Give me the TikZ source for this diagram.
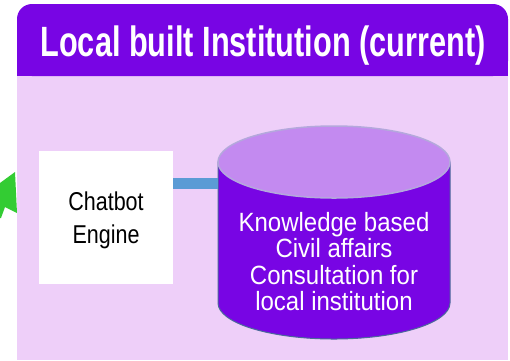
\documentclass[tikz,border=0pt]{standalone}
\usepackage{fontspec}
\setmainfont{Liberation Sans}
\definecolor{hdr}{HTML}{7805E4}
\definecolor{bodybg}{HTML}{EECFF9}
\definecolor{cyltop}{HTML}{C38AF0}
\definecolor{cyltopline}{HTML}{B4A8DC}
\definecolor{cylline}{HTML}{4A6A9A}
\definecolor{linkblue}{HTML}{5B9BD5}
\definecolor{arrowgreen}{HTML}{33CC33}
\tikzset{
  boxtext/.style={font=\fontsize{21.5}{27.5}\selectfont, align=center, text=black},
  cyltext/.style={font=\fontsize{24}{22}\selectfont, align=center, text=white},
  link/.style={draw=linkblue, line width=11pt}
}
\begin{document}
\begin{tikzpicture}[x=1pt,y=-1pt]
\useasboundingbox (0,0) rectangle (510,360);
% green arrow fragment
\fill[arrowgreen] (0,183) -- (15,172) -- (17,213) -- (5,207) -- (1,218) -- (0,218) -- cycle;
% panel body
\fill[bodybg] (17,60) rectangle (508,360);
% header
\fill[hdr, rounded corners=15pt] (17,76) -- (17,4) -- (508,4) -- (508,76) -- cycle;
\fill[hdr] (17,60) rectangle (508,76);
\node[text=white, inner sep=0pt] (title) at (263,46) {\scalebox{1}[1.38]{\fontsize{30.7}{31}\selectfont\bfseries Local built Institution (current)}};
% chatbot box
\node[fill=white, minimum width=134pt, minimum height=133pt, inner sep=0pt] (chat) at (106,217.5) {};
\node[boxtext, inner sep=0pt] (chatlabel) at (106,220) {\scalebox{1}[1.2]{\begin{tabular}{@{}c@{}}Chatbot\\Engine\end{tabular}}};
% cylinder
\coordinate (cylleft) at (218,183);
\fill[hdr, draw=cylline, line width=1pt] (218,162) -- (218,303) arc[start angle=180, end angle=0, x radius=116, y radius=36] -- (450,162) -- cycle;
\filldraw[fill=cyltop, draw=cyltopline, line width=1.5pt] (334,162) ellipse [x radius=116, y radius=36];
\node[cyltext, inner sep=0pt] (kb) at (334,265) {\scalebox{1}[1.1]{\begin{tabular}{@{}c@{}}Knowledge based\\Civil affairs\\Consultation for\\local institution\end{tabular}}};
% connector
\draw[link] (chat.east |- cylleft) -- (cylleft);
\end{tikzpicture}
\end{document}
